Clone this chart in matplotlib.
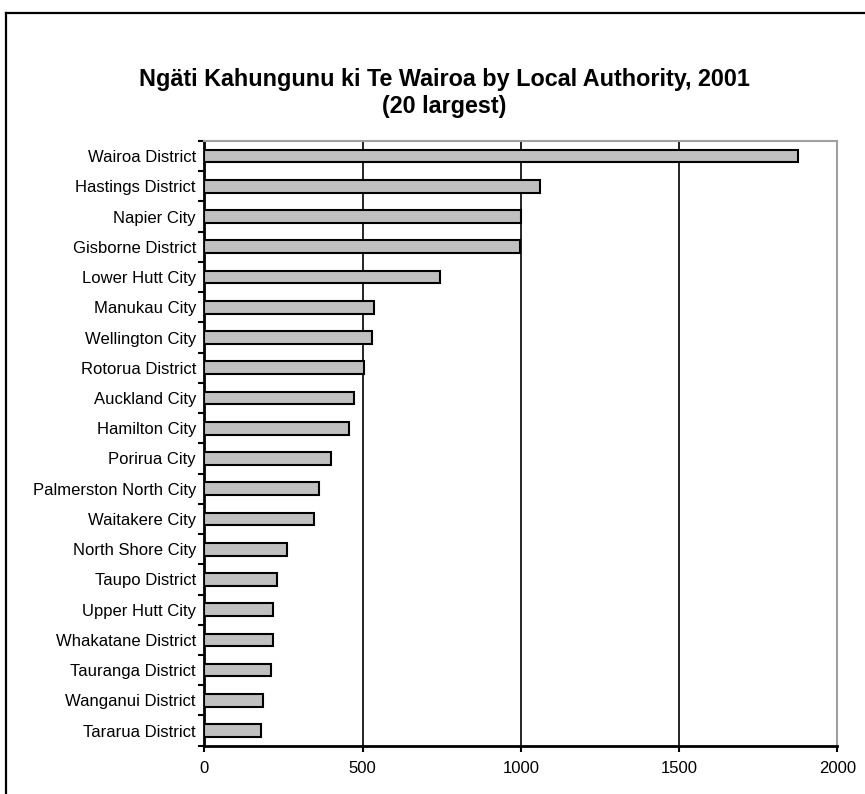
import matplotlib.pyplot as plt
from matplotlib.lines import Line2D

# Data
authorities = [
    "Wairoa District", "Hastings District", "Napier City", "Gisborne District",
    "Lower Hutt City", "Manukau City", "Wellington City", "Rotorua District",
    "Auckland City", "Hamilton City", "Porirua City", "Palmerston North City",
    "Waitakere City", "North Shore City", "Taupo District", "Upper Hutt City",
    "Whakatane District", "Tauranga District", "Wanganui District", "Tararua District",
]
counts = [1875, 1060, 1001, 996, 745, 537, 531, 505, 474, 456,
          399, 361, 348, 260, 229, 216, 216, 210, 184, 178]
xticks = [0, 500, 1000, 1500, 2000]

plt.rcParams['font.family'] = ['Liberation Sans', 'DejaVu Sans']

fig = plt.figure(figsize=(8.65, 7.94), dpi=100)
ax = fig.add_axes([0.2362, 0.0608, 0.968 - 0.2362, 0.8224 - 0.0608])

ypos = list(range(len(authorities)))
ax.barh(ypos, counts, height=0.42, color='#c0c0c0', edgecolor='black',
        linewidth=1.5, zorder=3)

ax.set_xlim(0, 2000)
ax.set_ylim(len(authorities) - 0.5, -0.5)

# vertical gridlines
for v in xticks[1:-1]:
    ax.axvline(v, color='black', linewidth=1.2, zorder=1)

ax.set_xticks(xticks)
ax.set_xticklabels([str(v) for v in xticks], fontsize=12)
ax.set_yticks(ypos)
ax.set_yticklabels(authorities, fontsize=12)
ax.tick_params(axis='y', length=0, pad=6)
ax.set_yticks([i - 0.5 for i in range(len(authorities) + 1)], minor=True)
ax.tick_params(axis='y', which='minor', length=4, width=1.5, direction='out')
ax.tick_params(axis='x', length=4, width=1.5, direction='out', pad=7)

for side in ['left', 'bottom']:
    ax.spines[side].set_linewidth(2)
    ax.spines[side].set_color('black')
for side in ['top', 'right']:
    ax.spines[side].set_linewidth(1.5)
    ax.spines[side].set_color('#a0a0a0')

fig.text(444 / 865, 1 - 93 / 794, "Ngäti Kahungunu ki Te Wairoa by Local Authority, 2001\n(20 largest)",
         ha='center', va='center', fontsize=16.8, fontweight='bold', linespacing=1.2)

# outer chart frame (left and top edges visible)
fx = 5.5 / 865
fy = 1 - 13 / 794
fig.add_artist(Line2D([fx, fx], [-0.01, fy], transform=fig.transFigure,
                      color='black', linewidth=1.6))
fig.add_artist(Line2D([fx, 1.01], [fy, fy], transform=fig.transFigure,
                      color='black', linewidth=1.6))

fig.savefig('out.png', dpi=100)
